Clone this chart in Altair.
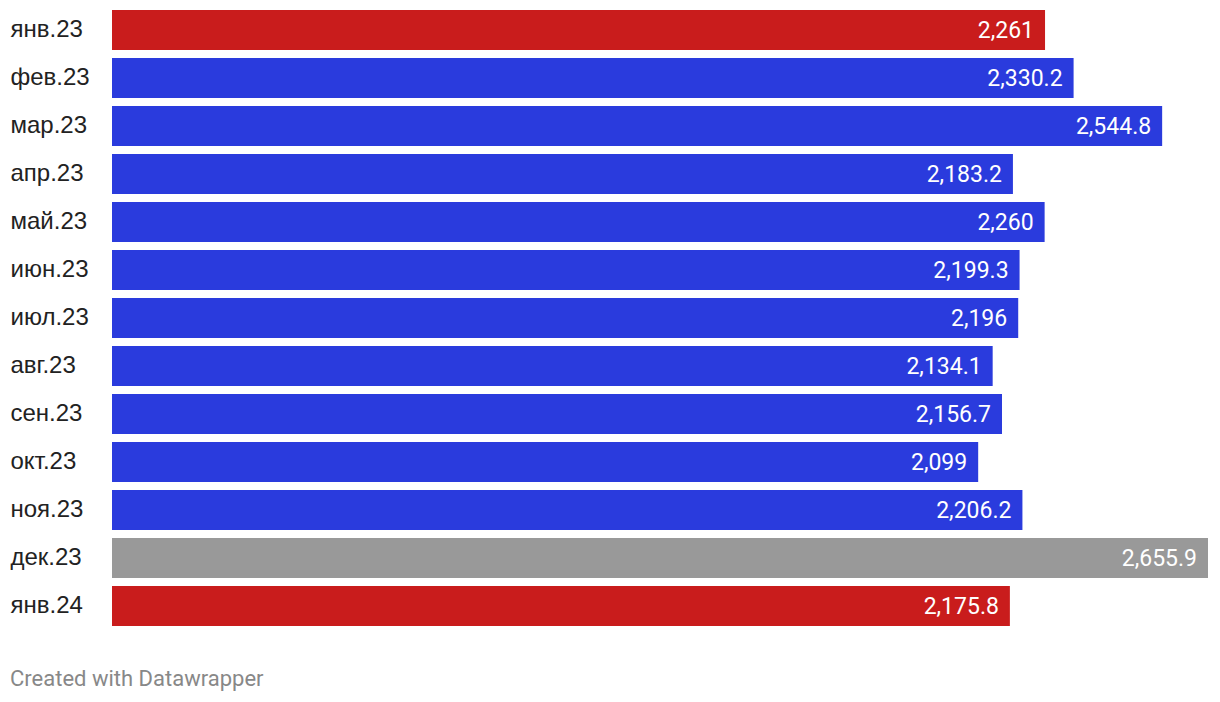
import altair as alt
import pandas as pd

months = ["янв.23", "фев.23", "мар.23", "апр.23", "май.23", "июн.23", "июл.23",
          "авг.23", "сен.23", "окт.23", "ноя.23", "дек.23", "янв.24"]
values = [2261, 2330.2, 2544.8, 2183.2, 2260, 2199.3, 2196,
          2134.1, 2156.7, 2099, 2206.2, 2655.9, 2175.8]
groups = ["red", "blue", "blue", "blue", "blue", "blue", "blue",
          "blue", "blue", "blue", "blue", "gray", "red"]

df = pd.DataFrame({"month": months, "value": values, "group": groups})

y_enc = alt.Y("month:N", sort=None, title=None,
              scale=alt.Scale(paddingInner=0.1667, paddingOuter=0.0833),
              axis=alt.Axis(ticks=False, domain=False, labelAlign="left",
                            labelPadding=102, labelFontSize=24, labelFont="Liberation Sans",
                            labelColor="#222222", labelBaseline="middle"))
x_enc = alt.X("value:Q", title=None, scale=alt.Scale(domain=[0, 2655.9], nice=False, zero=True),
              axis=None)

bars = alt.Chart(df).mark_bar().encode(
    y=y_enc, x=x_enc,
    color=alt.Color("group:N", legend=None,
                    scale=alt.Scale(domain=["red", "blue", "gray"],
                                    range=["#c91c1c", "#2a3bdd", "#999999"])),
)

labels = alt.Chart(df).mark_text(align="right", baseline="middle", dx=-11, dy=1,
                                 font="Roboto", fontSize=23, fontWeight="normal",
                                 color="white").encode(
    y=alt.Y("month:N", sort=None), x="value:Q",
    text=alt.Text("value:Q", format=",.1~f"),
)

chart = (bars + labels).properties(
    width=1096, height=624,
    title=alt.TitleParams("Created with Datawrapper", orient="bottom", anchor="start",
                          frame="group", dx=-102, offset=39, font="Roboto", fontSize=22,
                          fontWeight="normal", color="#888888"),
    autosize=alt.AutoSizeParams(type="none"),
    padding={"left": 112, "top": 6, "right": 12, "bottom": 72},
).configure(background="white", view=alt.ViewConfig(stroke=None))

chart.save("out.html", embed_options={"renderer": "svg", "actions": False})
